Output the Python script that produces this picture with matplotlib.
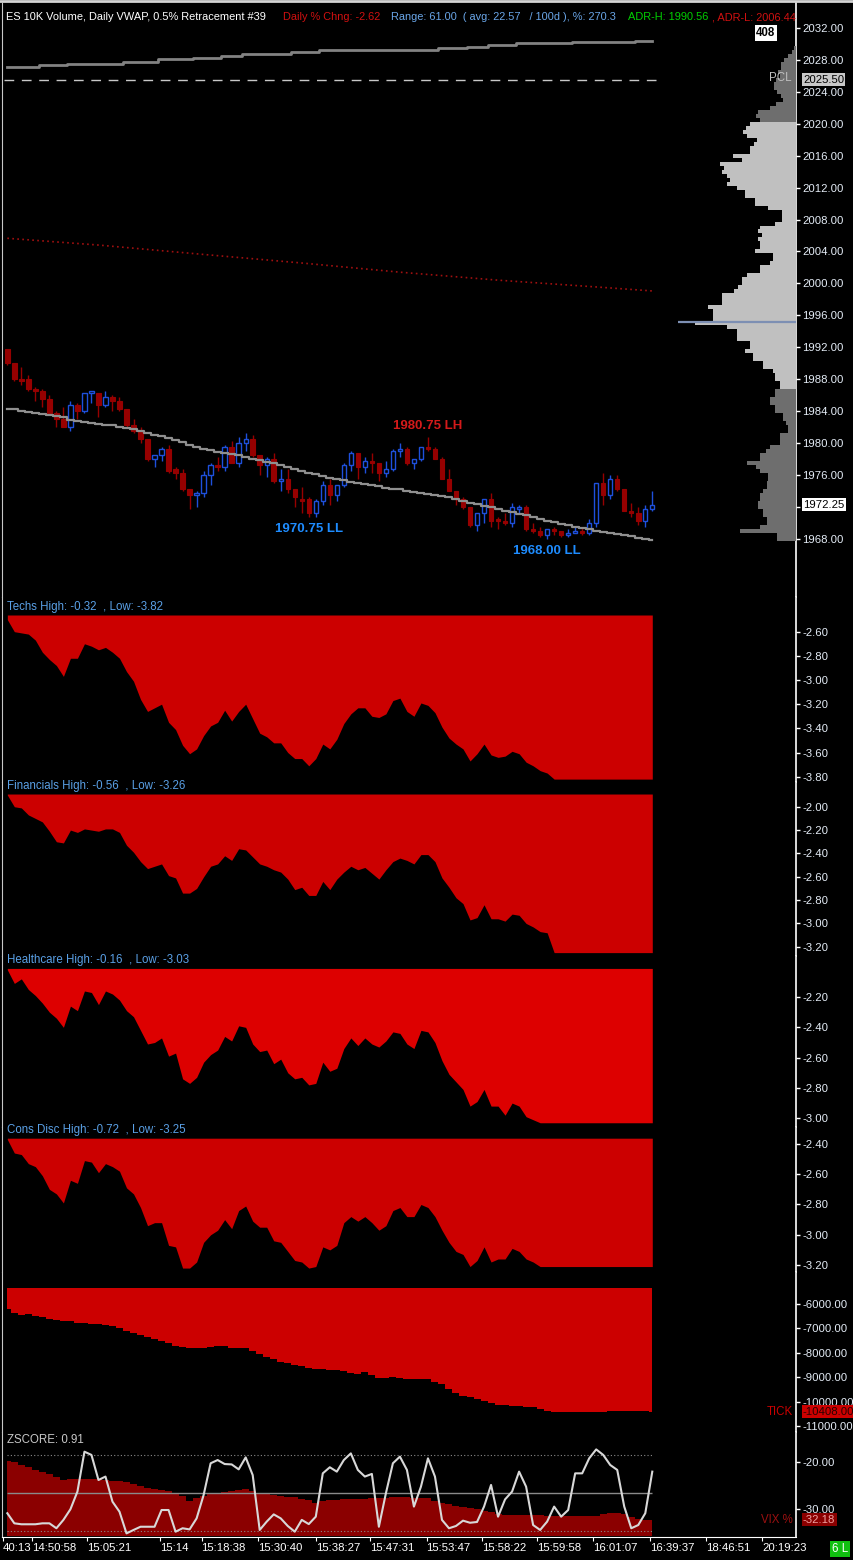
import numpy as np
import matplotlib
matplotlib.use("Agg")
import matplotlib.pyplot as plt
from matplotlib import font_manager
from matplotlib.transforms import blended_transform_factory

# ---------------- price bars (1 bar per 10K volume) ----------------
opens = [1991.75, 1990.0, 1988.0, 1988.0, 1986.75, 1986.5, 1985.5, 1983.75, 1983.0, 1982.0,
         1984.75, 1984.0, 1986.25, 1986.25, 1984.75, 1985.75, 1985.25, 1984.25, 1982.25, 1981.5,
         1980.5, 1978.0, 1978.5, 1979.25, 1976.75, 1976.25, 1974.25, 1973.5, 1973.75, 1976.0,
         1977.25, 1977.0, 1979.5, 1977.5, 1980.0, 1980.5, 1978.5, 1977.25, 1978.0, 1975.25,
         1975.5, 1974.25, 1973.0, 1973.0, 1971.25, 1972.75, 1974.75, 1973.5, 1974.75, 1977.25,
         1978.75, 1977.0, 1977.75, 1977.5, 1976.25, 1976.75, 1979.0, 1979.25, 1977.5, 1978.0,
         1979.5, 1979.25, 1978.0, 1975.5, 1974.0, 1973.0, 1972.0, 1969.75, 1971.25, 1973.0,
         1970.5, 1970.25, 1970.0, 1971.75, 1972.0, 1969.25, 1969.0, 1968.5, 1969.25, 1969.0,
         1968.5, 1968.75, 1969.0, 1968.75, 1970.0, 1975.0, 1973.5, 1975.5, 1974.25, 1971.5,
         1971.25, 1970.25, 1971.75]
highs = [1991.75, 1990.0, 1989.5, 1988.5, 1987.0, 1986.75, 1986.0, 1984.0, 1984.5, 1985.25,
         1985.0, 1986.25, 1986.5, 1986.25, 1986.5, 1986.0, 1985.75, 1984.25, 1983.0, 1982.0,
         1980.5, 1978.5, 1979.5, 1979.75, 1977.0, 1976.75, 1974.25, 1974.0, 1976.5, 1977.5,
         1978.25, 1979.75, 1980.25, 1980.75, 1981.25, 1981.0, 1978.5, 1978.25, 1978.75, 1976.75,
         1976.75, 1974.25, 1974.5, 1973.25, 1973.0, 1975.25, 1975.5, 1974.75, 1977.5, 1979.0,
         1978.75, 1978.25, 1978.75, 1977.5, 1977.75, 1979.25, 1980.0, 1979.5, 1978.0, 1979.5,
         1980.75, 1979.5, 1978.25, 1976.75, 1974.0, 1973.25, 1972.0, 1971.25, 1973.0, 1973.75,
         1970.75, 1971.25, 1972.5, 1972.25, 1972.25, 1970.0, 1969.5, 1969.25, 1969.5, 1969.0,
         1969.25, 1969.5, 1969.5, 1970.5, 1975.0, 1976.25, 1976.0, 1976.0, 1974.25, 1972.5,
         1972.0, 1972.25, 1974.0]
lows = [1989.75, 1987.75, 1987.25, 1986.5, 1985.25, 1984.5, 1983.75, 1982.0, 1982.0, 1981.5,
        1983.0, 1983.75, 1985.0, 1983.25, 1984.5, 1984.0, 1984.0, 1982.0, 1981.25, 1980.0,
        1977.75, 1977.0, 1977.75, 1976.25, 1975.5, 1974.0, 1971.75, 1972.0, 1973.25, 1974.75,
        1976.5, 1976.5, 1977.5, 1977.0, 1979.0, 1978.25, 1976.0, 1975.75, 1975.0, 1974.0,
        1973.75, 1972.0, 1971.25, 1970.75, 1970.75, 1972.25, 1972.25, 1972.75, 1974.5, 1976.5,
        1975.5, 1976.25, 1976.25, 1975.25, 1975.75, 1976.5, 1978.25, 1977.25, 1976.75, 1977.75,
        1979.0, 1978.0, 1975.5, 1974.0, 1972.25, 1971.75, 1969.5, 1969.0, 1970.0, 1969.5,
        1969.25, 1969.75, 1969.5, 1971.25, 1969.0, 1968.75, 1968.25, 1968.0, 1968.5, 1968.25,
        1968.25, 1968.75, 1968.5, 1968.5, 1969.5, 1972.25, 1973.0, 1974.0, 1971.5, 1970.75,
        1969.75, 1969.5, 1971.5]
closes = [1990.0, 1988.0, 1987.75, 1986.75, 1986.5, 1985.5, 1983.75, 1983.0, 1982.0, 1984.75,
          1984.0, 1986.25, 1986.5, 1984.75, 1985.75, 1985.25, 1984.25, 1982.25, 1981.5, 1980.5,
          1978.0, 1978.5, 1979.25, 1976.5, 1976.25, 1974.25, 1973.5, 1973.75, 1976.0, 1977.25,
          1977.0, 1979.5, 1977.5, 1980.0, 1980.5, 1978.5, 1977.25, 1978.0, 1975.25, 1975.5,
          1974.25, 1973.25, 1972.75, 1971.25, 1972.75, 1974.75, 1973.5, 1974.75, 1977.25, 1978.75,
          1977.0, 1977.75, 1977.5, 1976.25, 1976.75, 1979.0, 1979.25, 1977.5, 1978.0, 1979.5,
          1979.25, 1978.0, 1975.5, 1974.0, 1973.0, 1972.0, 1969.75, 1971.25, 1973.0, 1970.25,
          1970.25, 1970.0, 1972.0, 1972.0, 1969.25, 1969.0, 1968.5, 1969.25, 1969.0, 1968.5,
          1968.75, 1969.0, 1968.75, 1970.0, 1975.0, 1973.5, 1975.5, 1974.25, 1971.5, 1971.25,
          1970.25, 1971.75, 1972.25]

# daily VWAP (stepped grey line through the bars)
vwap = [1984.3, 1984.2, 1984.05, 1983.9, 1983.8, 1983.67, 1983.55, 1983.35, 1983.2, 1982.9,
        1982.8, 1982.67, 1982.55, 1982.4, 1982.3, 1982.2, 1982.05, 1981.9, 1981.7, 1981.5,
        1981.3, 1981.05, 1980.9, 1980.6, 1980.4, 1980.1, 1979.8, 1979.55, 1979.3, 1979.1,
        1978.9, 1978.8, 1978.6, 1978.45, 1978.3, 1978.0, 1977.85, 1977.65, 1977.5, 1977.25,
        1977.0, 1976.75, 1976.5, 1976.2, 1976.05, 1975.9, 1975.65, 1975.5, 1975.3, 1975.15,
        1975.0, 1974.85, 1974.73, 1974.55, 1974.4, 1974.27, 1974.2, 1974.0, 1973.9, 1973.77,
        1973.6, 1973.48, 1973.35, 1973.2, 1973.0, 1972.7, 1972.52, 1972.35, 1972.1, 1971.98,
        1971.77, 1971.5, 1971.35, 1971.14, 1970.98, 1970.73, 1970.48, 1970.27, 1970.1, 1969.9,
        1969.68, 1969.5, 1969.35, 1969.18, 1969.0, 1968.9, 1968.72, 1968.6, 1968.47, 1968.3,
        1968.13, 1967.99, 1967.88]

# upper grey step line near the top of the panel
upper_line = [2027.15, 2027.15, 2027.15, 2027.15, 2027.15, 2027.3, 2027.3, 2027.3, 2027.3, 2027.45,
              2027.45, 2027.45, 2027.45, 2027.45, 2027.45, 2027.45, 2027.45, 2027.7, 2027.7, 2027.7,
              2027.7, 2027.7, 2028.1, 2028.1, 2028.1, 2028.1, 2028.1, 2028.3, 2028.3, 2028.3,
              2028.3, 2028.5, 2028.5, 2028.5, 2028.8, 2028.8, 2028.8, 2028.8, 2028.8, 2028.8,
              2028.8, 2029.0, 2029.0, 2029.0, 2029.0, 2029.25, 2029.25, 2029.25, 2029.25, 2029.25,
              2029.25, 2029.25, 2029.25, 2029.25, 2029.25, 2029.25, 2029.25, 2029.25, 2029.25, 2029.25,
              2029.25, 2029.25, 2029.5, 2029.5, 2029.5, 2029.5, 2029.65, 2029.65, 2029.65, 2029.9,
              2029.9, 2029.9, 2029.9, 2030.1, 2030.1, 2030.1, 2030.1, 2030.1, 2030.1, 2030.1,
              2030.1, 2030.25, 2030.25, 2030.25, 2030.25, 2030.25, 2030.25, 2030.25, 2030.25, 2030.25,
              2030.4, 2030.4, 2030.4]

# dotted red line (sampled at these bars)
dotted_bars = [0, 13, 27, 42, 56, 70, 84, 92]
dotted_vals = [2005.65, 2004.8, 2003.7, 2002.55, 2001.4, 2000.4, 1999.55, 1999.05]

pcl = 2025.50
last_price = 1972.25
swing_labels = [(60, 1980.75, "1980.75 LH", "high"),
                (43, 1970.75, "1970.75 LL", "low"),
                (77, 1968.00, "1968.00 LL", "low")]

# volume profile, 0.5 pt levels from the top down
profile_top = 2029.5
profile_widths = [2, 4, 8, 12, 15, 15, 18, 16, 20, 22, 22, 19, 15, 13, 20, 26, 38, 40, 36,
                  46, 50, 53, 49, 39, 42, 46, 46, 63, 54, 76, 72, 74, 69, 66, 69, 59, 51, 51, 41,
                  41, 28, 14, 14, 14, 21, 36, 38, 34, 38, 36, 36, 41, 23, 23, 26, 36, 36, 49, 54,
                  54, 58, 62, 74, 74, 74, 88, 83, 83, 83, 101, 69, 59, 59, 59, 46, 46, 51, 43, 43,
                  33, 33, 23, 21, 21, 16, 16,
                  21, 21, 26, 26, 21, 21, 13, 13, 10, 8, 8, 16, 16, 16, 26, 30, 36, 36, 49, 40,
                  36, 28, 28, 29, 29, 33, 36, 36, 38, 38, 33, 33, 29, 29, 36, 56, 19, 19]
va_high, va_low, poc = 2020.0, 1987.0, 1995.15

# sector % change panels
techs = [-2.50, -2.60, -2.61, -2.62, -2.67, -2.77, -2.83, -2.88, -2.97, -2.82,
         -2.82, -2.70, -2.72, -2.75, -2.73, -2.77, -2.82, -2.93, -3.01, -3.16,
         -3.26, -3.23, -3.20, -3.35, -3.41, -3.54, -3.61, -3.57, -3.46, -3.38,
         -3.35, -3.25, -3.34, -3.26, -3.20, -3.32, -3.44, -3.47, -3.52, -3.52,
         -3.60, -3.65, -3.65, -3.71, -3.65, -3.53, -3.57, -3.49, -3.36, -3.28,
         -3.23, -3.23, -3.30, -3.31, -3.28, -3.17, -3.15, -3.26, -3.30, -3.19,
         -3.21, -3.27, -3.39, -3.48, -3.53, -3.57, -3.67, -3.61, -3.53, -3.62,
         -3.64, -3.63, -3.59, -3.61, -3.68, -3.71, -3.75, -3.77, -3.82, -3.82,
         -3.82, -3.82, -3.82, -3.82, -3.82, -3.82, -3.82, -3.82, -3.82, -3.82,
         -3.82, -3.82, -3.82]
financials = [-1.90, -2.00, -2.01, -2.07, -2.10, -2.13, -2.21, -2.30, -2.31, -2.20,
              -2.22, -2.19, -2.20, -2.21, -2.19, -2.19, -2.22, -2.33, -2.39, -2.47,
              -2.53, -2.51, -2.49, -2.59, -2.61, -2.74, -2.74, -2.70, -2.60, -2.51,
              -2.49, -2.42, -2.46, -2.36, -2.37, -2.43, -2.49, -2.51, -2.54, -2.56,
              -2.62, -2.71, -2.69, -2.76, -2.76, -2.64, -2.71, -2.62, -2.56, -2.51,
              -2.54, -2.52, -2.57, -2.62, -2.54, -2.47, -2.44, -2.46, -2.49, -2.41,
              -2.41, -2.47, -2.61, -2.69, -2.78, -2.83, -2.97, -2.95, -2.84, -2.96,
              -2.96, -2.98, -2.92, -2.93, -3.00, -3.03, -3.07, -3.08, -3.25, -3.25,
              -3.25, -3.25, -3.25, -3.25, -3.25, -3.25, -3.25, -3.25, -3.25, -3.25,
              -3.25, -3.25, -3.25]
healthcare = [-2.02, -2.11, -2.08, -2.15, -2.19, -2.24, -2.30, -2.34, -2.40, -2.26,
              -2.29, -2.16, -2.17, -2.25, -2.16, -2.18, -2.22, -2.29, -2.33, -2.42,
              -2.51, -2.50, -2.47, -2.59, -2.57, -2.74, -2.77, -2.73, -2.63, -2.58,
              -2.55, -2.46, -2.49, -2.39, -2.40, -2.51, -2.56, -2.55, -2.64, -2.61,
              -2.70, -2.74, -2.73, -2.78, -2.77, -2.63, -2.69, -2.67, -2.54, -2.47,
              -2.52, -2.47, -2.51, -2.53, -2.49, -2.43, -2.44, -2.51, -2.54, -2.42,
              -2.43, -2.50, -2.62, -2.71, -2.76, -2.81, -2.92, -2.89, -2.81, -2.92,
              -2.92, -2.98, -2.90, -2.92, -2.99, -3.01, -3.03, -3.03, -3.03, -3.03,
              -3.03, -3.03, -3.03, -3.03, -3.03, -3.03, -3.03, -3.03, -3.03, -3.03,
              -3.03, -3.03, -3.03]
cons_disc = [-2.37, -2.46, -2.47, -2.53, -2.55, -2.61, -2.70, -2.73, -2.79, -2.64,
             -2.66, -2.51, -2.52, -2.59, -2.53, -2.55, -2.58, -2.69, -2.73, -2.82,
             -2.94, -2.92, -2.92, -3.07, -3.08, -3.22, -3.22, -3.18, -3.05, -3.00,
             -2.97, -2.90, -2.96, -2.84, -2.81, -2.91, -2.95, -2.95, -3.04, -3.05,
             -3.11, -3.17, -3.18, -3.22, -3.21, -3.08, -3.10, -3.07, -2.92, -2.88,
             -2.91, -2.88, -2.92, -2.97, -2.94, -2.84, -2.82, -2.88, -2.88, -2.80,
             -2.82, -2.88, -2.97, -3.05, -3.11, -3.13, -3.21, -3.17, -3.08, -3.18,
             -3.16, -3.16, -3.09, -3.11, -3.16, -3.18, -3.21, -3.21, -3.21, -3.21,
             -3.21, -3.21, -3.21, -3.21, -3.21, -3.21, -3.21, -3.21, -3.21, -3.21,
             -3.21, -3.21, -3.21]
sector_titles = ["Techs High: -0.32  , Low: -3.82", "Financials High: -0.56  , Low: -3.26",
                 "Healthcare High: -0.16  , Low: -3.03", "Cons Disc High: -0.72  , Low: -3.25"]

# cumulative TICK
tick = [-6218, -6355, -6437, -6396, -6478, -6546, -6615, -6656, -6683, -6710,
        -6765, -6779, -6820, -6833, -6874, -6915, -6997, -7106, -7202, -7270,
        -7366, -7434, -7503, -7612, -7707, -7748, -7803, -7817, -7803, -7748,
        -7735, -7721, -7803, -7817, -7817, -7912, -8049, -8158, -8254, -8377,
        -8431, -8513, -8541, -8623, -8664, -8677, -8705, -8718, -8759, -8814,
        -8855, -8787, -8909, -9019, -9032, -9005, -9032, -9060, -9087, -9087,
        -9073, -9183, -9278, -9497, -9661, -9770, -9825, -9893, -9961, -10071,
        -10125, -10153, -10180, -10180, -10207, -10235, -10317, -10371, -10412, -10412,
        -10412, -10412, -10412, -10412, -10412, -10412, -10398, -10385, -10370, -10370,
        -10370, -10380, -10408]

# VIX % change and z-score
vix = [-19.78, -20.06, -20.69, -21.18, -21.67, -22.09, -22.58, -23.14, -23.77, -23.70,
       -23.70, -23.70, -23.70, -23.70, -23.84, -23.98, -24.12, -24.27, -24.69, -25.04,
       -25.46, -25.81, -26.02, -26.09, -26.65, -27.21, -28.19, -27.70, -27.21, -26.86,
       -26.65, -26.37, -26.16, -25.95, -25.74, -26.09, -26.51, -26.65, -26.93, -27.14,
       -27.35, -27.49, -27.77, -28.05, -28.61, -28.33, -28.12, -27.98, -27.84, -27.77,
       -27.77, -27.77, -27.70, -27.70, -27.56, -27.49, -27.49, -27.49, -27.56, -27.63,
       -27.70, -28.19, -28.75, -28.96, -29.24, -29.45, -29.73, -30.01, -30.29, -30.57,
       -30.99, -31.20, -31.20, -31.20, -31.20, -31.27, -31.27, -31.34, -31.34, -31.34,
       -31.34, -31.34, -31.34, -31.34, -31.34, -31.06, -30.85, -30.71, -30.99, -31.55,
       -32.11, -32.25, -32.18]
zscore = [-1.05, -1.58, -1.63, -1.63, -1.63, -1.58, -1.58, -1.84, -1.40, -0.84,
          0.09, 2.19, 2.02, 0.70, 0.88, -0.44, -0.97, -2.11, -1.93, -1.76,
          -1.76, -1.76, -0.88, -0.88, -2.02, -1.84, -1.90, -1.32, -0.09, 1.58,
          1.75, 1.54, 1.52, 1.26, 1.89, 0.96, -1.93, -1.49, -1.11, -1.32,
          -1.72, -2.02, -1.40, -1.62, -1.23, 1.05, 1.37, 1.14, 1.75, 2.10,
          1.23, 0.88, 1.02, -1.76, 0.00, 1.58, 1.93, 1.23, -0.70, 0.35,
          1.84, 0.88, -1.40, -1.84, -1.72, -1.44, -1.55, -1.51, -0.70, 0.44,
          -1.23, -0.32, 0.09, 1.14, 0.35, -1.67, -1.93, -1.49, -0.70, -1.23,
          -0.88, 1.05, 1.05, 1.84, 2.31, 2.02, 1.49, 1.23, -0.70, -1.84,
          -1.67, -1.05, 1.14]

time_ticks = [-0.6, 3.5, 11.4, 21.8, 27.7, 35.8, 44, 51.8, 59.8, 67.7, 75.5, 83.5, 91.7, 99.7, 107.7]
time_labels = ["40:13", "14:50:58", "15:05:21", "15:14", "15:18:38", "15:30:40", "15:38:27",
               "15:47:31", "15:53:47", "15:58:22", "15:59:58", "16:01:07", "16:39:37",
               "18:46:51", "20:19:23"]

# ---------------- style ----------------
names = {f.name for f in font_manager.fontManager.ttflist}
FONT = "Liberation Sans" if "Liberation Sans" in names else "DejaVu Sans"
plt.rcParams["font.family"] = [FONT, "DejaVu Sans"]

W, H = 854, 1560
RED_C = "#960000"
BLUE_C = "#1e50dc"
LBL = "#e4ecf6"
TITLE_C = "#5aa0e6"
XLIM = (-0.76, 112.5)
LEFT, RIGHT = 2 / W, 796 / W
FS = 8.3

fig = plt.figure(figsize=(W / 100, H / 100), dpi=100, facecolor="black")


def ptext(x, y, s, **kw):
    kw.setdefault("va", "center")
    kw.setdefault("fontsize", FS)
    return fig.text(x / W, 1 - y / H, s, **kw)


def panel(y0, y1, ylim, yticks, fmt="%.2f"):
    ax = fig.add_axes([LEFT, 1 - y1 / H, RIGHT - LEFT, (y1 - y0) / H])
    ax.set_facecolor("black")
    ax.set_xlim(XLIM)
    ax.set_ylim(ylim)
    ax.spines["top"].set_visible(False)
    ax.spines["bottom"].set_visible(False)
    ax.spines["left"].set_color("#c8c8c8")
    ax.spines["right"].set_color("white")
    ax.spines["right"].set_linewidth(1.2)
    ax.yaxis.tick_right()
    ax.set_yticks(yticks)
    ax.set_yticklabels([fmt % v for v in yticks])
    ax.tick_params(axis="y", colors="white", labelcolor=LBL, labelsize=8.2, length=3, width=1, pad=1.5)
    ax.tick_params(axis="x", bottom=False, labelbottom=False)
    return ax


def right_box(ax, value, s, fc, tc):
    tr = blended_transform_factory(ax.transAxes, ax.transData)
    ax.text(1 + 7 / 794, value, s, transform=tr, fontsize=8.2, color=tc, va="center", ha="left",
            clip_on=False, bbox=dict(boxstyle="square,pad=0.12", fc=fc, ec="none"), zorder=10)


# ---------------- price panel ----------------
ax = panel(3, 597, (1960.7, 2035.13), list(range(1968, 2033, 4)))
x = np.arange(len(closes))
o, h, l, c = (np.array(v) for v in (opens, highs, lows, closes))
up = c > o
ax.vlines(x, l, h, colors=np.where(up, BLUE_C, RED_C), lw=1, zorder=3)
lo = np.minimum(o, c)
ht = np.abs(c - o)
ax.bar(x[~up], ht[~up], bottom=lo[~up], width=0.64, color=RED_C, edgecolor=RED_C, lw=0.8, zorder=4)
ax.bar(x[up], ht[up], bottom=lo[up], width=0.62, facecolor="black", edgecolor=BLUE_C, lw=1.0, zorder=4)

ax.step(x, vwap, where="mid", color="#8f8f8f", lw=1.6, zorder=5)
ax.step(x, upper_line, where="mid", color="#828282", lw=2.0, zorder=5)
ax.hlines(pcl, -0.5, 92.5, colors="#c8c8c8", linestyles=(0, (7, 5.5)), lw=1)
ax.plot(dotted_bars, dotted_vals, color="#a01010", lw=1.2, linestyle=(0, (1, 2)))

for bar_i, price, s, kind in swing_labels:
    if kind == "high":
        ax.annotate(s, (bar_i, price), xytext=(0, 8), textcoords="offset points", ha="center",
                    va="center", color="#d41a1a", fontsize=9.5, fontweight="bold")
    else:
        ax.annotate(s, (bar_i, price), xytext=(0, -9), textcoords="offset points", ha="center",
                    va="center", color="#1e8cff", fontsize=9.5, fontweight="bold")

right_box(ax, pcl, "2025.50", "#c8c8c8", "black")
right_box(ax, last_price, "%.2f" % last_price, "white", "black")

# volume profile hanging off the right edge
axp = fig.add_axes(ax.get_position())
axp.set_position([676 / W, ax.get_position().y0, 120 / W, ax.get_position().height])
axp.set_xlim(120, 0)
axp.set_ylim(ax.get_ylim())
axp.axis("off")
axp.patch.set_alpha(0)
prof_prices = profile_top - 0.5 * np.arange(len(profile_widths))
prof_cols = ["#c0c0c0" if va_low <= p <= va_high else "#6e6e6e" for p in prof_prices]
axp.barh(prof_prices, profile_widths, height=0.5, color=prof_cols, lw=0)
axp.hlines(poc, 0, 118, colors="#7d8fb3", lw=1.6)

# header
hdr = [(6, "ES 10K Volume, Daily VWAP, 0.5% Retracement #39", "white"),
       (283, "Daily % Chng: -2.62", "#d01010"),
       (391, "Range: 61.00  ( avg: 22.57   / 100d ), %: 270.3", "#6aa6e8"),
       (628, "ADR-H: 1990.56", "#00d000"),
       (712, ", ADR-L: 2006.44", "#d01010")]
for px, s, col in hdr:
    t = ptext(px, 17, s, color=col, fontsize=7.9)
    t.set_clip_box(ax.bbox)
    t.set_clip_on(True)
ptext(766, 33, "408", color="black", fontweight="bold", ha="center",
      bbox=dict(boxstyle="square,pad=0.15", fc="white", ec="none"))
ptext(792, 78, "PCL", color="#c0c0c0", ha="right")

# ---------------- sector panels ----------------
sectors = [(techs, 597, 782, (-3.844, -2.313), -2.462, [-2.6, -2.8, -3.0, -3.2, -3.4, -3.6, -3.8], "#cc0000"),
           (financials, 782, 956, (-3.279, -1.788), -1.891, [-2.0, -2.2, -2.4, -2.6, -2.8, -3.0, -3.2], "#cc0000"),
           (healthcare, 956, 1127, (-3.058, -1.929), -2.011, [-2.2, -2.4, -2.6, -2.8, -3.0], "#dd0000"),
           (cons_disc, 1127, 1272, (-3.246, -2.288), -2.362, [-2.4, -2.6, -2.8, -3.0, -3.2], "#cc0000")]
title_rows = [607, 786, 960, 1130]
for (series, y0, y1, ylim, top, yt, col), title, ty in zip(sectors, sector_titles, title_rows):
    a = panel(y0, y1, ylim, yt)
    xs = np.arange(len(series))
    a.fill_between(xs, series, top, color=col, lw=0)
    ptext(7, ty, title, color=TITLE_C)

# ---------------- TICK ----------------
at = panel(1272, 1432, (-11245, -4689), [-6000, -7000, -8000, -9000, -10000, -11000])
xs = np.arange(len(tick))
at.fill_between(xs, tick, -5332, color="#cc0000", lw=0, step="mid")
right_box(at, tick[-1], "%.2f" % tick[-1], "#cc0000", "#2a0000")
tr = blended_transform_factory(at.transAxes, at.transData)
at.text(791 / 794, tick[-1], "TICK", transform=tr, color="#cc0000", fontsize=FS, ha="right", va="center")

# ---------------- VIX + ZSCORE ----------------
av = panel(1432, 1537, (-35.82, -13.76), [-20, -30])
xs = np.arange(len(vix))
av.fill_between(xs, vix, -35.6, color="#8b0000", lw=0, step="mid")
right_box(av, vix[-1], "%.2f" % vix[-1], "#8b0000", "#f0a0a0")
tr = blended_transform_factory(av.transAxes, av.transData)
av.text(791 / 794, vix[-1], "VIX %", transform=tr, color="#9a1010", fontsize=FS, ha="right", va="center")

az = fig.add_axes(av.get_position())
az.set_xlim(XLIM)
az.set_ylim(-2.30, 3.226)
az.axis("off")
az.patch.set_alpha(0)
xs = np.arange(len(zscore))
az.hlines([2, -2], 0, xs[-1], colors="#8a8a8a", linestyles=(0, (1, 2)), lw=0.8)
az.hlines(0, 0, xs[-1], colors="#8a8a8a", lw=1)
az.plot(xs, zscore, color="#d8d8d8", lw=1.5)
ptext(7, 1440, "ZSCORE: 0.91", color="#c8c8c8")

# time axis
av.spines["bottom"].set_visible(True)
av.spines["bottom"].set_color("white")
av.set_xticks(time_ticks)
av.set_xticklabels(time_labels, ha="left")
av.tick_params(axis="x", bottom=True, labelbottom=True, colors="white", labelcolor="white",
               labelsize=8.2, length=3, pad=1.5)
ptext(840, 1549, "6 L", color="white", ha="center",
      bbox=dict(boxstyle="square,pad=0.2", fc="#10c010", ec="none"))

fig.add_artist(plt.Line2D([0, 1], [1 - 1 / H, 1 - 1 / H], color="#d4d4d4", lw=2, transform=fig.transFigure))

fig.savefig("out.png", dpi=100, facecolor="black")
